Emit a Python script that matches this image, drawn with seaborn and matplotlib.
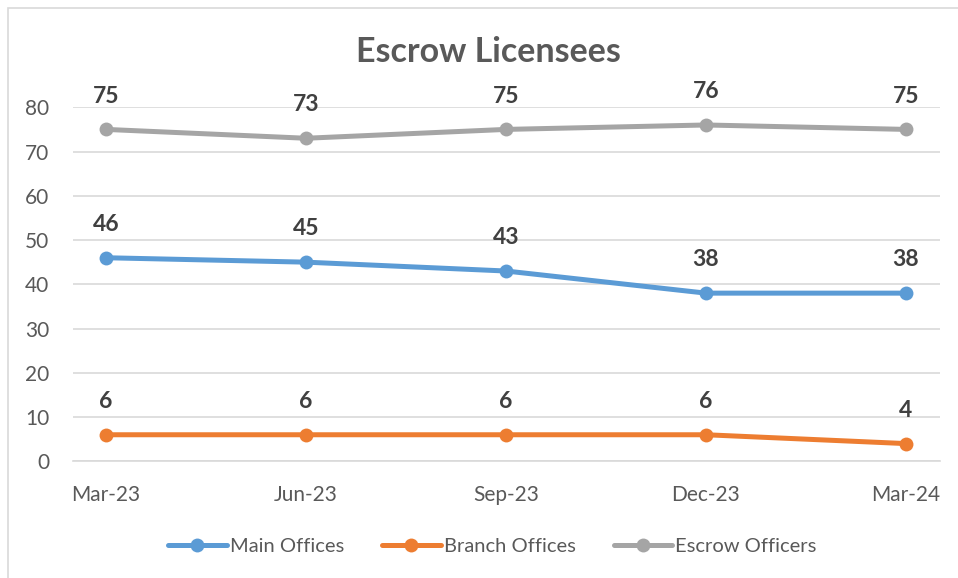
import numpy as np
import pandas as pd
import matplotlib.pyplot as plt
import seaborn as sns
from matplotlib.patches import Rectangle

quarters = ["Mar-23", "Jun-23", "Sep-23", "Dec-23", "Mar-24"]
main_offices = [46, 45, 43, 38, 38]
branch_offices = [6, 6, 6, 6, 4]
escrow_officers = [75, 73, 75, 76, 75]

series_names = ["Main Offices", "Branch Offices", "Escrow Officers"]
colors = ["#5B9BD5", "#ED7D31", "#A5A5A5"]

pos = np.arange(len(quarters))
data = pd.DataFrame({
    "pos": np.tile(pos, 3),
    "value": main_offices + branch_offices + escrow_officers,
    "series": np.repeat(series_names, len(quarters)),
})

sns.set_style("white")
plt.rcParams["font.family"] = ["Lato", "DejaVu Sans"]
text_col = "#595959"

fig = plt.figure(figsize=(9.58, 5.78), dpi=100)
ax = fig.add_axes([0.0762, 0.2019, 0.905, 0.6125])

sns.lineplot(data=data, x="pos", y="value", hue="series", hue_order=series_names,
             palette=colors, marker="o", markersize=10, markeredgewidth=0,
             linewidth=3.6, ax=ax, legend=True)

# data labels
for vals in [main_offices, branch_offices, escrow_officers]:
    for x, v in zip(pos, vals):
        ax.annotate(str(v), (x, v), xytext=(0, 24), textcoords="offset points",
                    ha="center", va="center", fontsize=16.5, fontweight="bold",
                    color="#404040")

ax.set_xlim(-0.165, 4.17)
ax.set_ylim(0, 80)
ax.set_yticks(range(0, 81, 10))
ax.yaxis.grid(True, color="#D9D9D9", linewidth=1.2)
ax.set_xticks(pos)
ax.set_xticklabels(quarters)
ax.set_xticks(pos - 0.165, minor=True)
ax.tick_params(axis="x", which="major", length=0, pad=17, labelsize=15, labelcolor=text_col)
ax.tick_params(axis="x", which="minor", length=6, width=1.2, color="#D9D9D9")
ax.tick_params(axis="y", length=0, pad=17, labelsize=15, labelcolor=text_col)
for side in ["top", "right", "left"]:
    ax.spines[side].set_visible(False)
ax.spines["bottom"].set_color("#D9D9D9")
ax.spines["bottom"].set_linewidth(1.2)
ax.set_xlabel("")
ax.set_ylabel("")

handles, labels = ax.get_legend_handles_labels()
ax.legend(handles, labels, loc="center", ncol=3, frameon=False, fontsize=14.5,
          labelcolor=text_col, handlelength=2.9, handletextpad=0.15, columnspacing=1.9)
leg = ax.get_legend()
leg.set_bbox_to_anchor((0.514, 1 - 546 / 578), transform=fig.transFigure)

fig.text(0.51, 1 - 52 / 578, "Escrow Licensees", ha="center", va="center",
         fontsize=24.5, fontweight="bold", color=text_col)

fig.patches.append(Rectangle((8 / 958, -0.1), 1.2, 1 - 8 / 578 + 0.1, transform=fig.transFigure,
                             fill=False, edgecolor="#D9D9D9", linewidth=1.2))

fig.savefig("out.png", dpi=100)
